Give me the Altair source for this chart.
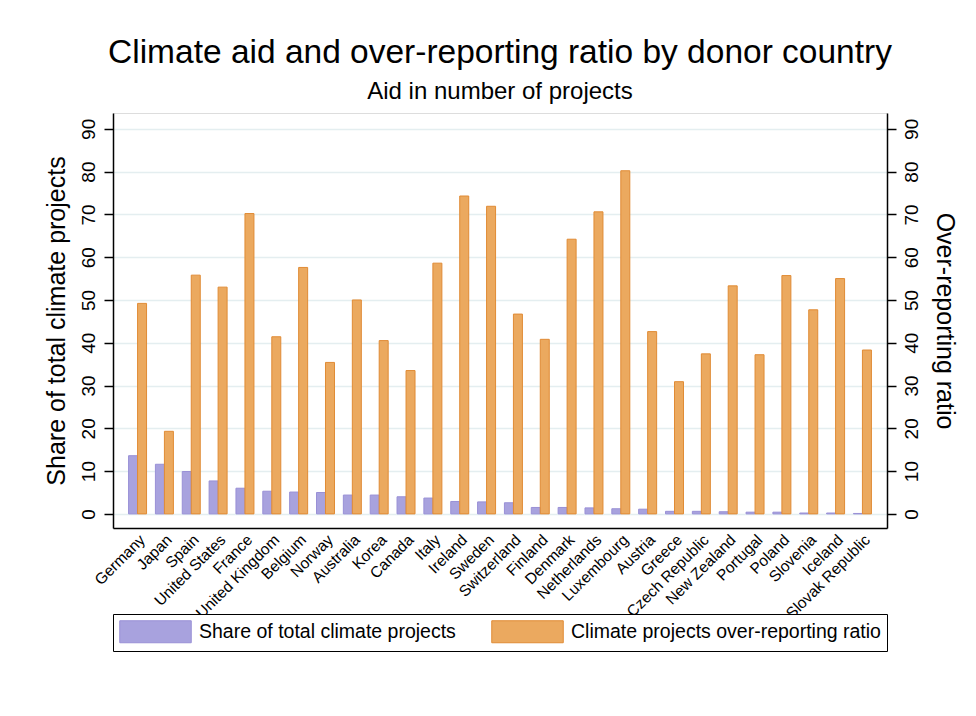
import altair as alt
import pandas as pd

countries = ["Germany", "Japan", "Spain", "United States", "France", "United Kingdom",
             "Belgium", "Norway", "Australia", "Korea", "Canada", "Italy", "Ireland",
             "Sweden", "Switzerland", "Finland", "Denmark", "Netherlands", "Luxembourg",
             "Austria", "Greece", "Czech Republic", "New Zealand", "Portugal", "Poland",
             "Slovenia", "Iceland", "Slovak Republic"]
share = [13.6, 11.6, 9.9, 7.7, 6.0, 5.3, 5.1, 5.0, 4.4, 4.4, 4.0, 3.7, 2.9, 2.8,
         2.6, 1.5, 1.5, 1.4, 1.2, 1.1, 0.6, 0.6, 0.5, 0.4, 0.4, 0.2, 0.2, 0.1]
ratio = [49.2, 19.3, 55.8, 53.0, 70.2, 41.4, 57.6, 35.4, 50.0, 40.5, 33.5, 58.6, 74.3,
         71.9, 46.7, 40.8, 64.2, 70.6, 80.2, 42.6, 30.9, 37.4, 53.3, 37.2, 55.7, 47.7,
         55.0, 38.3]
series = ["Share of total climate projects", "Climate projects over-reporting ratio"]
ticks = [0, 10, 20, 30, 40, 50, 60, 70, 80, 90]

rows = []
for c, s, r in zip(countries, share, ratio):
    rows.append({"country": c, "series": series[0], "value": s})
    rows.append({"country": c, "series": series[1], "value": r})
df = pd.DataFrame(rows)

FONT = "Liberation Sans"
ydom = [-3.3, 93.7]

def xenc():
    return alt.X("country:N", sort=countries, title=None,
                 scale=alt.Scale(paddingInner=0.33, paddingOuter=0.58),
                 axis=alt.Axis(labelAngle=-45, labelFontSize=15.5, labelColor="black",
                               ticks=False, domainColor="black", domainWidth=1.5,
                               labelPadding=4, labelFont=FONT))

def yaxis(orient, title, grid):
    return alt.Axis(orient=orient, values=ticks, title=title,
                    labelAngle=-90, labelFontSize=19, labelColor="black",
                    titleFontSize=25, titleFontWeight="normal", titleColor="black",
                    titlePadding=10, tickSize=9, tickColor="black", tickWidth=1.5,
                    domainColor="black", domainWidth=1.5, labelPadding=6,
                    grid=grid, gridColor="#e4eef0", gridWidth=1.5,
                    labelFont=FONT, titleFont=FONT)

bars = alt.Chart(df).mark_bar(strokeWidth=1).encode(
    x=xenc(),
    xOffset=alt.XOffset("series:N", sort=series, scale=alt.Scale(paddingInner=0, paddingOuter=0)),
    y=alt.Y("value:Q", scale=alt.Scale(domain=ydom, nice=False, zero=False),
            axis=yaxis("left", "Share of total climate projects", True)),
    color=alt.Color("series:N", sort=series,
                    scale=alt.Scale(domain=series, range=["#a8a2de", "#eba95f"]),
                    legend=alt.Legend(title=None, orient="none", legendX=0, legendY=501,
                                      direction="horizontal",
                                      symbolType="M-3.25,-1H3.25V1H-3.25Z", symbolSize=484,
                                      symbolOffset=25,
                                      symbolStrokeWidth=1, labelFontSize=19.5,
                                      labelFont=FONT, labelColor="black",
                                      labelOffset=32, columnPadding=33,
                                      padding=6, strokeColor="black", fillColor="white",
                                      labelLimit=400)),
    stroke=alt.Stroke("series:N", sort=series,
                      scale=alt.Scale(domain=series, range=["#9990d6", "#e08b35"]),
                      legend=None),
)

right = alt.Chart(df).mark_bar(opacity=0).encode(
    x=xenc(),
    y=alt.Y("value:Q", scale=alt.Scale(domain=ydom, nice=False, zero=False),
            axis=yaxis("right", "Over-reporting ratio", False)),
)

chart = alt.layer(bars, right).resolve_scale(y="independent").properties(
    width=774, height=415,
    title=alt.TitleParams(text="Climate aid and over-reporting ratio by donor country",
                          subtitle="Aid in number of projects",
                          fontSize=33.5, font=FONT, fontWeight="normal", color="black",
                          subtitleFontSize=24, subtitleFont=FONT, subtitleColor="black",
                          subtitlePadding=10, anchor="middle", offset=8),
    autosize=alt.AutoSizeParams(type="none"),
    padding={"left": 105, "top": 105, "right": 81, "bottom": 180},
).configure_view(stroke=None).configure(background="white")

chart.save("out.html", embed_options={"renderer": "svg", "actions": False})
